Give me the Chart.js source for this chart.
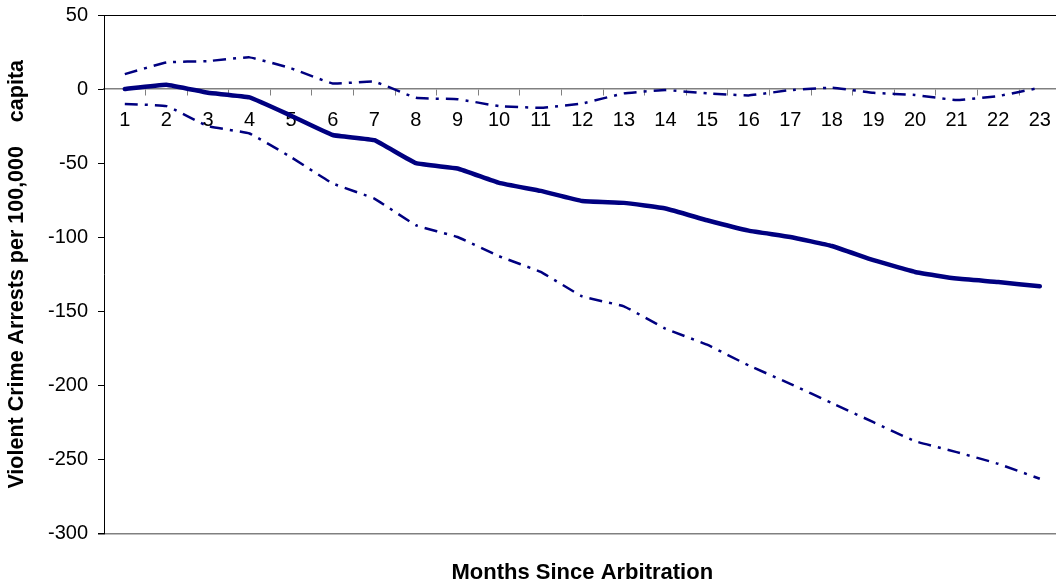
<!DOCTYPE html>
<html>
<head>
<meta charset="utf-8">
<script src="https://cdn.jsdelivr.net/npm/chart.js@4/dist/chart.umd.min.js"></script>
<style>
  html, body { margin: 0; padding: 0; overflow: hidden; background: #fff; }
  #wrap { width: 1064px; height: 586px; }
</style>
</head>
<body>
<div id="wrap"><canvas id="c" width="1064" height="586"></canvas></div>
<script>
// Months since arbitration (category axis)
const months = ['1','2','3','4','5','6','7','8','9','10','11','12','13','14','15','16','17','18','19','20','21','22','23'];

// Estimated change in violent crime arrests per 100,000 capita
const meanChange = [0, 3, -2.5, -5.6, -18, -31, -34.5, -50, -53.6, -63.3, -68.7, -75.5, -76.8, -80.6, -88.5, -95.5, -99.8, -105.9, -115.5, -123.4, -127.9, -130.2, -133.1];

// Upper and lower confidence bounds
const upperBound = [10.1, 18, 18.9, 21.4, 14, 3.8, 5, -5.9, -6.8, -11.5, -12.6, -9.7, -2.9, -0.7, -2.9, -4.3, -0.7, 0.9, -2.5, -4, -7.4, -4.7, 0.9];
const lowerBound = [-10, -11.5, -25, -30, -46, -63.7, -73.9, -91.9, -99.8, -112.8, -123.4, -139.9, -146.6, -161.7, -172.5, -186.5, -198.9, -211.9, -224.8, -237.6, -245, -252.9, -263];

// Y axis range and step
const yMin = -300, yMax = 50, yStep = 50;

const NAVY = '#000080';
const FONT = "'Liberation Sans', Arial, sans-serif";

new Chart(document.getElementById('c'), {
  type: 'line',
  data: {
    labels: months,
    datasets: [
      {
        data: meanChange,
        borderColor: NAVY,
        borderWidth: 4.5,
        pointRadius: 0,
        tension: 0.1,
        borderCapStyle: 'round',
        borderJoinStyle: 'round'
      },
      {
        data: upperBound,
        borderColor: NAVY,
        borderWidth: 2.5,
        borderDash: [13, 7, 3, 7],
        pointRadius: 0,
        tension: 0.1
      },
      {
        data: lowerBound,
        borderColor: NAVY,
        borderWidth: 2.5,
        borderDash: [13, 7, 3, 7],
        pointRadius: 0,
        tension: 0.1
      }
    ]
  },
  options: {
    responsive: false,
    animation: false,
    layout: { padding: { top: 15, left: 0, right: 1, bottom: 0 } },
    plugins: {
      legend: { display: false },
      tooltip: { enabled: false },
      title: {
        display: true,
        position: 'bottom',
        fullSize: false,
        text: 'Months Since Arbitration',
        color: '#000',
        font: { family: FONT, size: 22, weight: 'bold' },
        padding: { top: 26, bottom: 0 }
      }
    },
    scales: {
      x: {
        type: 'category',
        position: { y: 0 },
        offset: true,
        afterFit: (scale) => { scale.paddingTop = 0; scale.paddingBottom = 0; },
        grid: {
          offset: true,
          drawOnChartArea: false,
          drawTicks: true,
          tickLength: 6,
          color: '#808080'
        },
        border: { display: true, color: '#808080', width: 1.5 },
        ticks: {
          color: '#000',
          font: { family: FONT, size: 20 },
          padding: 13,
          maxRotation: 0,
          autoSkip: false
        }
      },
      y: {
        position: 'left',
        min: yMin,
        max: yMax,
        afterFit: (scale) => { scale.width = 104; scale.paddingTop = 0; scale.paddingBottom = 0; },
        ticks: {
          stepSize: yStep,
          color: '#000',
          font: { family: FONT, size: 20 },
          padding: 10
        },
        grid: {
          drawTicks: true,
          tickLength: 6,
          tickColor: '#000',
          color: (ctx) => {
            if (!ctx.tick) return 'rgba(0,0,0,0)';
            if (ctx.tick.value === yMax) return '#000';
            if (ctx.tick.value === yMin) return '#808080';
            return 'rgba(0,0,0,0)';
          },
          lineWidth: (ctx) => (ctx.tick && ctx.tick.value === yMin) ? 1.5 : 1
        },
        border: { display: true, color: '#000', width: 1 },
        title: {
          display: true,
          text: 'Violent Crime Arrests per 100,000    capita',
          color: '#000',
          font: { family: FONT, size: 21.5, weight: 'bold' },
          padding: { top: 4, bottom: 0 }
        }
      }
    }
  }
});
</script>
</body>
</html>
